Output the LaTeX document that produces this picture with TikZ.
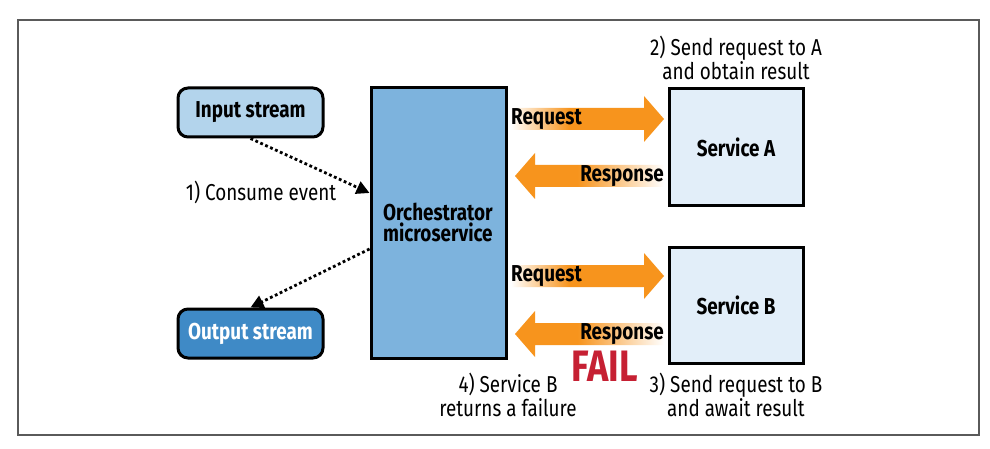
\documentclass[tikz,border=0pt]{standalone}
\usepackage{fontspec}
\setmainfont{Fira Sans}[FakeStretch=0.82]
\usetikzlibrary{arrows.meta}
\definecolor{orng}{HTML}{F7941D}
\definecolor{inblue}{HTML}{B3D4EC}
\definecolor{orchblue}{HTML}{7DB3DD}
\definecolor{outblue}{HTML}{3F8AC6}
\definecolor{svcblue}{HTML}{E2EEF9}
\definecolor{failred}{HTML}{C62033}
\definecolor{framegray}{HTML}{5A5A5A}
\pgfdeclarehorizontalshading{reqshade}{100bp}{color(0bp)=(white); color(25bp)=(white); color(44bp)=(orng); color(100bp)=(orng)}
\pgfdeclarehorizontalshading{resshade}{100bp}{color(0bp)=(orng); color(46bp)=(orng); color(75bp)=(white); color(100bp)=(white)}
\tikzset{
  streambox/.style={draw, line width=3pt, rounded corners=10pt, minimum width=145pt, minimum height=49pt, inner sep=0pt, font=\fontsize{23}{25}\selectfont\bfseries},
  squarebox/.style={draw, line width=3pt, inner sep=0pt},
  lbl/.style={font=\fontsize{23}{24}\selectfont, align=center, inner sep=0pt},
  arrlbl/.style={font=\fontsize{23}{24}\selectfont\bfseries, inner sep=0pt},
  dotarrow/.style={line width=2.8pt, dash pattern=on 2.8pt off 2.6pt, -{Triangle[length=13pt,width=13pt]}},
}
\begin{document}
\begin{tikzpicture}[x=1pt,y=-1pt]
\useasboundingbox (0,0) rectangle (990,449);
\fill[white] (0,0) rectangle (990,449);
\draw[framegray, line width=1.3pt] (18,20) rectangle (979,435);

% boxes
\node[streambox, fill=inblue] (in) at (250.5,112.5) {Input stream};
\node[streambox, fill=outblue, text=white] (out) at (250.5,333.5) {Output stream};
\node[squarebox, fill=orchblue, minimum width=135pt, minimum height=270pt] (orch) at (438.5,223) {};
\node[font=\fontsize{23}{21}\selectfont\bfseries, align=left, anchor=west, inner sep=0pt] (orchtxt) at (383,222) {Orchestrator\\microservice};
\node[squarebox, fill=svcblue, minimum width=134pt, minimum height=117pt, font=\fontsize{23}{24}\selectfont\bfseries] (sa) at (736,147.5) {Service A};
\node[squarebox, fill=svcblue, minimum width=134pt, minimum height=116pt, font=\fontsize{23}{24}\selectfont\bfseries] (sb) at (736,305) {Service B};

% orange arrows
\shade[shading=reqshade] (511,108) -- (644,108) -- (644,96) -- (664,119) -- (644,142) -- (644,130) -- (511,130) -- cycle;
\shade[shading=resshade] (664,165) -- (535,165) -- (535,153) -- (515,176) -- (535,199) -- (535,187) -- (664,187) -- cycle;
\shade[shading=reqshade] (511,265) -- (644,265) -- (644,253) -- (664,276) -- (644,299) -- (644,287) -- (511,287) -- cycle;
\shade[shading=resshade] (664,323) -- (535,323) -- (535,311) -- (515,334) -- (535,357) -- (535,345) -- (664,345) -- cycle;

\node[arrlbl, anchor=west] (rqa) at (511,119) {Request};
\node[arrlbl, anchor=east] (rsa) at (664,176) {Response};
\node[arrlbl, anchor=west] (rqb) at (511,276) {Request};
\node[arrlbl, anchor=east] (rsb) at (664,334) {Response};

% dotted connectors
\coordinate (c1) at (371,193);
\coordinate (c2) at (371,249);
\draw[dotarrow] (in.south) -- (orch.west |- c1);
\draw[dotarrow] (orch.west |- c2) -- (out.north);

% labels
\node[lbl] (l1) at (261,192) {1) Consume event};
\node[lbl] (l2) at (736,58) {2) Send request to A\\and obtain result};
\node[lbl] (l3) at (736,395) {3) Send request to B\\and await result};
\node[lbl] (l4) at (508,395) {4) Service B\\returns a failure};
\node[font=\fontsize{44}{44}\selectfont\bfseries, text=failred, inner sep=0pt] (fail) at (605,366) {FAIL};
\end{tikzpicture}
\end{document}
